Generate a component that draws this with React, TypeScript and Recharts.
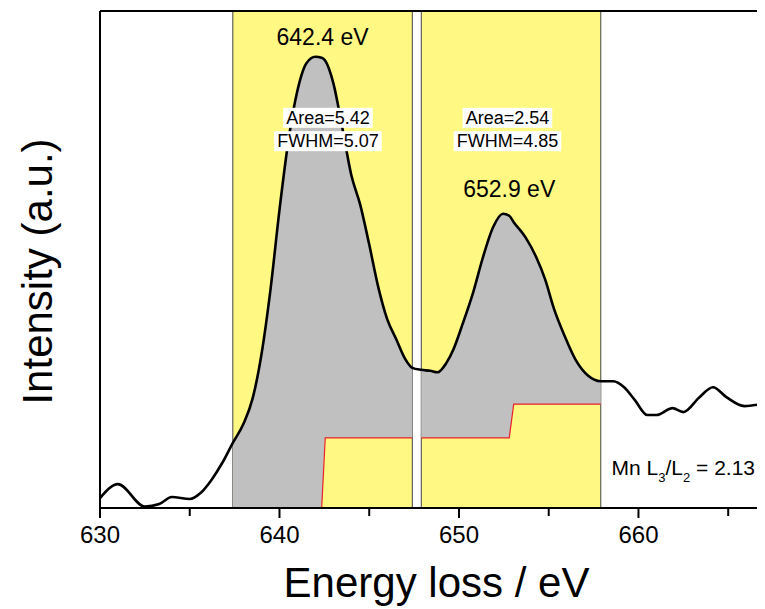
import React from 'react';
import {
  ComposedChart,
  Line,
  Area,
  XAxis,
  YAxis,
  ReferenceArea,
  ReferenceLine,
  ReferenceDot,
} from 'recharts';

// Energy loss (eV) sample positions and measured intensity (a.u., 0-100 scale)
const energy = [
  630.0, 631.0, 632.5, 633.3, 634.0, 635.0, 635.6, 636.2, 636.8, 637.4,
  638.0, 638.5, 639.0, 639.5, 640.0, 640.5, 641.0, 641.5, 642.0, 642.35,
  642.55, 643.0, 643.5, 644.0, 644.5, 645.0, 645.5, 646.0, 646.5, 647.0,
  647.4, 647.9, 648.4, 648.8, 649.3, 649.7, 650.2, 650.8, 651.3, 651.9,
  652.45, 652.8, 653.05, 653.7, 654.3, 654.8, 655.3, 655.9, 656.5, 657.2,
  657.9, 658.6, 659.2, 659.8, 660.5, 661.0, 661.9, 662.5, 663.4, 664.15,
  664.9, 665.9, 667.05,
];
const intensity = [
  2.0, 4.8, 0.3, 0.8, 2.2, 1.8, 3.0, 5.6, 9.0, 13.1,
  17.0, 22.0, 31.0, 44.0, 60.0, 74.0, 84.0, 89.5, 90.8, 90.6,
  90.0, 85.5, 76.5, 67.0, 61.0, 53.0, 44.5, 38.0, 34.0, 30.0,
  28.2, 27.8, 27.6, 27.3, 29.2, 32.0, 37.0, 43.5, 50.0, 56.5,
  59.2, 58.8, 57.5, 54.5, 50.5, 46.0, 40.0, 34.5, 29.8, 26.6,
  25.5, 25.5, 24.3, 21.7, 18.7, 18.7, 20.1, 19.3, 22.3, 24.3,
  22.3, 20.5, 21.1,
];

// Integration windows (L3 and L2 edges)
const windowL3 = [637.4, 647.4];
const windowL2 = [647.9, 657.9];

// Step-function background inside each window
const stepL3X = [637.4, 642.35, 642.55, 647.4];
const stepL3Y = [0, 0, 14.1, 14.1];
const stepL2X = [647.9, 652.8, 653.05, 657.9];
const stepL2Y = [14.1, 14.1, 20.9, 20.9];

const xTicks = [630, 635, 640, 645, 650, 655, 660, 665];

const peakLabels = [
  { x: 642.4, y: 93.2, text: '642.4 eV' },
  { x: 652.8, y: 62.6, text: '652.9 eV' },
];
const boxLabels = [
  { x: 642.7, y: 77.3, text: 'Area=5.42' },
  { x: 642.7, y: 72.6, text: 'FWHM=5.07' },
  { x: 652.7, y: 77.3, text: 'Area=2.54' },
  { x: 652.7, y: 72.6, text: 'FWHM=4.85' },
];
const ratioLabel = { x: 658.5, y: 6.6, value: '2.13' };

const FONT = '"Liberation Sans", Arial, sans-serif';

function stepAt(xs: number[], ys: number[], x: number): number {
  let v = ys[0];
  for (let i = 0; i < xs.length; i++) if (xs[i] <= x + 1e-9) v = ys[i];
  return v;
}

const data = energy.map((x, i) => {
  const y = intensity[i];
  const row: any = { x, y };
  if (x >= windowL3[0] - 1e-9 && x <= windowL3[1] + 1e-9) {
    const s = stepAt(stepL3X, stepL3Y, x);
    row.g1 = [s, y];
    row.s1 = s;
  }
  if (x >= windowL2[0] - 1e-9 && x <= windowL2[1] + 1e-9) {
    const s = stepAt(stepL2X, stepL2Y, x);
    row.g2 = [s, y];
    row.s2 = s;
  }
  return row;
});

const charW: Record<string, number> = {
  '0': 0.556, '1': 0.556, '2': 0.556, '3': 0.556, '4': 0.556, '5': 0.556,
  '6': 0.556, '7': 0.556, '8': 0.556, '9': 0.556, '.': 0.278, '=': 0.584,
  A: 0.667, r: 0.333, e: 0.556, a: 0.556, F: 0.611, W: 0.944, H: 0.722, M: 0.833,
};
const textWidth = (t: string, fs: number) =>
  t.split('').reduce((s, c) => s + (charW[c] ?? 0.556), 0) * fs;

const XTick = (props: any) => {
  const { x, y, payload } = props;
  const v = payload.value as number;
  const major = v % 10 === 0;
  const axisY = y - 14;
  return (
    <g>
      <line x1={x} x2={x} y1={axisY} y2={axisY + (major ? 10 : 8)} stroke="#000" strokeWidth={2} />
      {major && (
        <text x={x} y={axisY + 35} textAnchor="middle" fontSize={24} fontFamily={FONT} fill="#000">
          {v}
        </text>
      )}
    </g>
  );
};

const peakContent = (text: string) => (props: any) => {
  const vb = props.viewBox || {};
  const cx = (vb.x ?? 0) + (vb.width ?? 0) / 2;
  const cy = (vb.y ?? 0) + (vb.height ?? 0) / 2;
  return (
    <text x={cx} y={cy} textAnchor="middle" fontSize={23} fontFamily={FONT} fill="#000">
      {text}
    </text>
  );
};

const boxContent = (text: string) => (props: any) => {
  const vb = props.viewBox || {};
  const cx = (vb.x ?? 0) + (vb.width ?? 0) / 2;
  const cy = (vb.y ?? 0) + (vb.height ?? 0) / 2;
  const fs = 18;
  const w = textWidth(text, fs) + 6;
  return (
    <g>
      <rect x={cx - w / 2} y={cy - 16} width={w} height={20} fill="#fff" />
      <text x={cx} y={cy} textAnchor="middle" fontSize={fs} fontFamily={FONT} fill="#000">
        {text}
      </text>
    </g>
  );
};

const ratioContent = (props: any) => {
  const vb = props.viewBox || {};
  const x0 = (vb.x ?? 0) + (vb.width ?? 0) / 2;
  const y0 = (vb.y ?? 0) + (vb.height ?? 0) / 2;
  return (
    <text x={x0} y={y0} fontSize={21} fontFamily={FONT} fill="#000">
      Mn L<tspan fontSize={13} dy={7}>3</tspan>
      <tspan dy={-7}>/L</tspan>
      <tspan fontSize={13} dy={7}>2</tspan>
      <tspan dy={-7}>{' = ' + ratioLabel.value}</tspan>
    </text>
  );
};

const yLabelContent = (props: any) => {
  const vb = props.viewBox || {};
  const cx = (vb.x ?? 0) + 44;
  const cy = (vb.y ?? 0) + (vb.height ?? 0) / 2 + 12;
  return (
    <text
      x={cx}
      y={cy}
      transform={`rotate(-90 ${cx} ${cy})`}
      textAnchor="middle"
      fontSize={42}
      fontFamily={FONT}
      fill="#000"
    >
      Intensity (a.u.)
    </text>
  );
};

const xLabelContent = (props: any) => {
  const vb = props.viewBox || {};
  const cx = (vb.x ?? 0) + (vb.width ?? 0) / 2 + 4;
  const cy = (vb.y ?? 0) + 89;
  return (
    <text x={cx} y={cy} textAnchor="middle" fontSize={42} fontFamily={FONT} fill="#000">
      Energy loss / eV
    </text>
  );
};

export default function App() {
  return (
    <div style={{ width: 757, height: 601, fontFamily: FONT }}>
      <ComposedChart
        width={757}
        height={601}
        data={data}
        margin={{ top: 3, right: 0, bottom: 0, left: 0 }}
      >
        <XAxis
          dataKey="x"
          type="number"
          domain={[630, 667.05]}
          ticks={xTicks}
          allowDataOverflow
          height={101}
          tickSize={10}
          tickMargin={4}
          tickLine={false}
          tick={<XTick />}
          axisLine={{ stroke: '#000', strokeWidth: 2 }}
          label={{ content: xLabelContent }}
        />
        <YAxis
          type="number"
          domain={[0, 100]}
          allowDataOverflow
          width={92}
          tick={false}
          tickLine={false}
          axisLine={{ stroke: '#000', strokeWidth: 2 }}
          label={{ content: yLabelContent }}
        />
        <ReferenceArea
          x1={windowL3[0]}
          x2={windowL3[1]}
          fill="#FFF984"
          fillOpacity={1}
          stroke="#444"
          strokeWidth={1}
        />
        <ReferenceArea
          x1={windowL2[0]}
          x2={windowL2[1]}
          fill="#FFF984"
          fillOpacity={1}
          stroke="#444"
          strokeWidth={1}
        />
        <Area
          dataKey="g1"
          type="monotone"
          fill="#C0C0C0"
          fillOpacity={1}
          stroke="none"
          connectNulls={false}
          isAnimationActive={false}
          dot={false}
          activeDot={false}
        />
        <Area
          dataKey="g2"
          type="monotone"
          fill="#C0C0C0"
          fillOpacity={1}
          stroke="none"
          connectNulls={false}
          isAnimationActive={false}
          dot={false}
          activeDot={false}
        />
        <Line
          dataKey="s1"
          type="linear"
          stroke="#E8202A"
          strokeWidth={1.2}
          dot={false}
          activeDot={false}
          connectNulls={false}
          isAnimationActive={false}
        />
        <Line
          dataKey="s2"
          type="linear"
          stroke="#E8202A"
          strokeWidth={1.2}
          dot={false}
          activeDot={false}
          connectNulls={false}
          isAnimationActive={false}
        />
        <Line
          dataKey="y"
          type="monotone"
          stroke="#000"
          strokeWidth={2.6}
          dot={false}
          activeDot={false}
          isAnimationActive={false}
        />
        <ReferenceLine y={100} stroke="#000" strokeWidth={2} />
        {peakLabels.map((p) => (
          <ReferenceDot
            key={p.text}
            x={p.x}
            y={p.y}
            r={0}
            fill="none"
            stroke="none"
            label={{ content: peakContent(p.text) }}
          />
        ))}
        {boxLabels.map((p) => (
          <ReferenceDot
            key={p.text}
            x={p.x}
            y={p.y}
            r={0}
            fill="none"
            stroke="none"
            label={{ content: boxContent(p.text) }}
          />
        ))}
        <ReferenceDot
          x={ratioLabel.x}
          y={ratioLabel.y}
          r={0}
          fill="none"
          stroke="none"
          label={{ content: ratioContent }}
        />
      </ComposedChart>
    </div>
  );
}
